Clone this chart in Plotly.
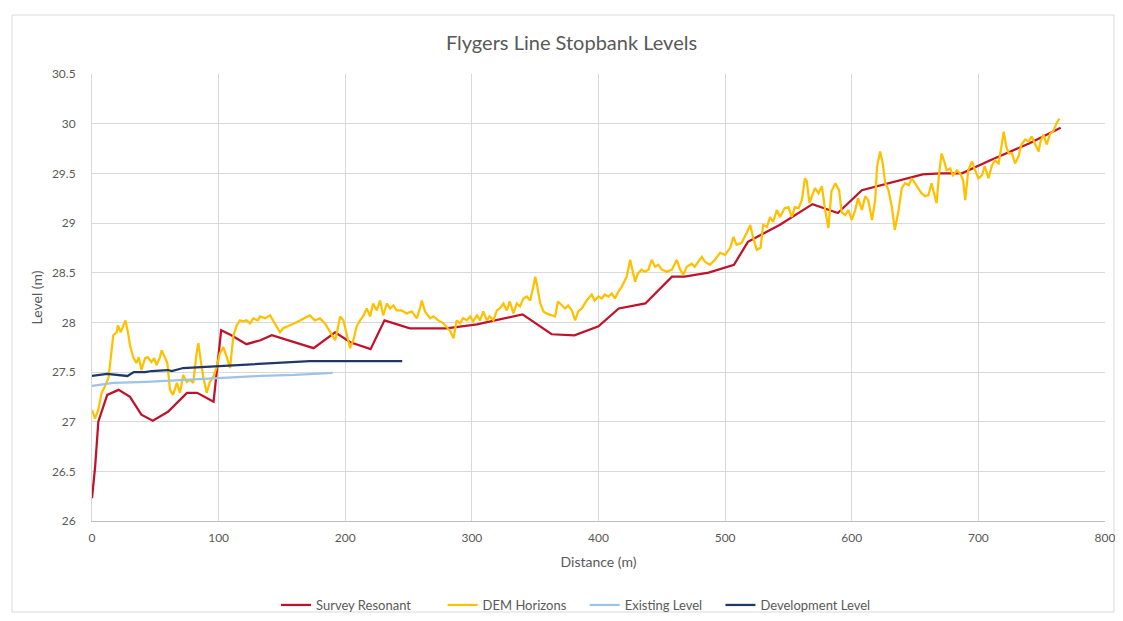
import plotly.graph_objects as go

# Survey Resonant
survey_x = [0, 2.5, 5, 12, 21, 30, 39, 48, 60, 75, 83, 96, 102, 110, 122, 133, 142, 155, 175, 192, 204,
            220, 231, 251, 280, 304, 340, 363, 381, 400, 416, 437, 458, 468, 487, 507, 518, 531, 543,
            569, 589, 608, 633, 656, 670, 687, 709, 740, 765]
survey_y = [26.23, 26.55, 27.0, 27.27, 27.32, 27.25, 27.07, 27.01, 27.1, 27.29, 27.29, 27.2, 27.92, 27.87,
            27.78, 27.82, 27.87, 27.82, 27.74, 27.9, 27.8, 27.73, 28.02, 27.94, 27.94, 27.98, 28.08,
            27.88, 27.87, 27.96, 28.14, 28.19, 28.46, 28.46, 28.5, 28.58, 28.81, 28.9, 28.98, 29.19,
            29.1, 29.33, 29.41, 29.49, 29.5, 29.5, 29.63, 29.8, 29.96]

# DEM Horizons
dem_x = [0, 2.4, 5, 7.6, 10, 13, 15.5, 16.8, 19.5, 20.5, 22.6, 24.5, 26.5, 28.5, 30, 32.5, 35, 37, 39, 42,
         44, 47, 49, 51, 53.7, 55, 57.7, 59.5, 61.6, 64, 67, 69.5, 72, 74.8, 77.4, 80, 82.7, 84, 85.8, 88,
         90.6, 93, 95.8, 98.5, 101, 103.7, 106.4, 109, 111.6, 114.3, 116.9, 119.5, 122, 124.8, 127.4, 131,
         132.7, 136.7, 140.6, 144.5, 148.5, 151, 153.8, 156.4, 160, 164.3, 168, 172, 176, 180, 184, 188,
         192, 193.8, 196, 198.5, 201, 203.8, 206.4, 209, 211.7, 214, 217, 219.6, 222, 224.9, 227.5, 230,
         232.8, 235.4, 238, 240.6, 244.5, 248.5, 252.5, 256.5, 259, 260.4, 263, 267, 269.6, 273.5, 277.5,
         280, 283, 285.5, 288, 290.7, 293, 296, 298.6, 301, 304, 306.5, 309, 311.8, 314, 317, 319.7, 322,
         325, 327.6, 330, 332.8, 335.5, 338, 340.7, 343.4, 346, 348.6, 350, 351.7, 354, 356.5, 359, 363,
         365.7, 368, 371, 373.6, 376, 379, 381.5, 384, 386.8, 390.7, 394.7, 397, 400, 402.6, 405, 407.8,
         410.5, 413, 415.7, 418.4, 422.3, 425, 427.6, 429, 431, 434, 436.8, 439.4, 442, 444.7, 447.3, 450,
         454, 458, 461.8, 464.5, 467, 469.7, 473.6, 476, 481.6, 484, 488, 492, 496, 500, 504, 506.6, 509,
         513, 517, 519.8, 522, 525, 528, 530, 533, 535.5, 538, 540.8, 543.4, 547, 550, 552.7, 555, 558,
         560.6, 563, 564.5, 566.6, 568.5, 571, 573.7, 576.4, 579, 581.6, 584, 587, 590, 592, 594.8, 597.4,
         600, 602.7, 605, 608, 610.6, 613, 616, 618.5, 620, 622.4, 624.5, 626.4, 629, 631.7, 634, 637,
         639.5, 642, 645, 647.5, 650, 652.7, 655, 658, 660.6, 663, 664.5, 667, 669, 671, 673, 675, 677.7,
         680, 683, 685.6, 688, 689.6, 692, 695, 697.5, 700, 702.8, 705, 708, 710.7, 713, 716, 718.6, 720,
         722, 724, 726.5, 729, 731.7, 734, 737, 739.6, 742, 745, 747.6, 749, 751.4, 754, 756.7, 759, 762, 764]
dem_y = [27.12, 27.03, 27.12, 27.29, 27.35, 27.44, 27.72, 27.87, 27.9, 27.97, 27.9, 27.96, 28.02, 27.89,
         27.77, 27.65, 27.59, 27.65, 27.52, 27.64, 27.65, 27.6, 27.64, 27.57, 27.65, 27.72, 27.65, 27.59,
         27.32, 27.27, 27.39, 27.29, 27.47, 27.4, 27.42, 27.39, 27.7, 27.79, 27.62, 27.44, 27.29, 27.4,
         27.45, 27.55, 27.69, 27.75, 27.65, 27.54, 27.86, 27.97, 28.02, 28.01, 28.02, 27.99, 28.04, 28.02,
         28.06, 28.04, 28.07, 27.99, 27.9, 27.94, 27.96, 27.97, 27.99, 28.02, 28.04, 28.07, 28.02, 28.04,
         27.99, 27.9, 27.82, 27.92, 28.06, 28.02, 27.89, 27.74, 27.82, 27.96, 28.02, 28.06, 28.14, 28.06,
         28.19, 28.12, 28.22, 28.07, 28.19, 28.14, 28.17, 28.12, 28.12, 28.09, 28.11, 28.04, 28.14, 28.22,
         28.11, 28.04, 28.06, 28.02, 27.99, 27.95, 27.91, 27.84, 28.02, 27.99, 28.04, 28.02, 28.06, 28.01,
         28.07, 28.02, 28.11, 28.02, 28.06, 28.02, 28.12, 28.14, 28.19, 28.12, 28.21, 28.09, 28.19, 28.16,
         28.24, 28.26, 28.22, 28.36, 28.46, 28.36, 28.19, 28.11, 28.09, 28.07, 28.06, 28.21, 28.17, 28.14,
         28.17, 28.12, 28.02, 28.11, 28.14, 28.22, 28.28, 28.22, 28.26, 28.24, 28.28, 28.26, 28.29, 28.24,
         28.31, 28.36, 28.46, 28.63, 28.48, 28.41, 28.49, 28.53, 28.51, 28.53, 28.63, 28.56, 28.58, 28.53,
         28.51, 28.53, 28.63, 28.53, 28.48, 28.56, 28.59, 28.56, 28.66, 28.61, 28.58, 28.63, 28.7, 28.68,
         28.75, 28.86, 28.78, 28.8, 28.9, 28.98, 28.86, 28.73, 28.75, 28.98, 28.96, 29.06, 29.01, 29.13,
         29.06, 29.15, 29.16, 29.06, 29.16, 29.15, 29.23, 29.45, 29.42, 29.2, 29.27, 29.35, 29.3, 29.37,
         29.13, 28.95, 29.32, 29.4, 29.33, 29.11, 29.08, 29.13, 29.03, 29.13, 29.25, 29.13, 29.27, 29.23,
         29.03, 29.23, 29.57, 29.72, 29.6, 29.4, 29.33, 29.16, 28.93, 29.13, 29.35, 29.4, 29.38, 29.45,
         29.4, 29.35, 29.3, 29.27, 29.28, 29.4, 29.33, 29.2, 29.5, 29.7, 29.62, 29.53, 29.55, 29.48, 29.53,
         29.5, 29.43, 29.23, 29.53, 29.62, 29.53, 29.45, 29.48, 29.57, 29.45, 29.58, 29.63, 29.6, 29.8,
         29.92, 29.77, 29.7, 29.7, 29.6, 29.67, 29.79, 29.84, 29.82, 29.87, 29.79, 29.72, 29.82, 29.89,
         29.79, 29.9, 29.92, 30.01, 30.05]

# Existing Level
existing_x = [0, 17, 43, 70, 101, 133, 160, 190]
existing_y = [27.36, 27.39, 27.40, 27.42, 27.44, 27.46, 27.47, 27.49]

# Development Level
dev_x = [0, 12, 28, 33, 42, 47, 60, 63, 72, 101, 133, 172, 245]
dev_y = [27.46, 27.48, 27.46, 27.50, 27.50, 27.51, 27.52, 27.51, 27.54, 27.56, 27.58, 27.61, 27.61]

x_ticks = [0, 100, 200, 300, 400, 500, 600, 700, 800]
y_ticks = [26, 26.5, 27, 27.5, 28, 28.5, 29, 29.5, 30, 30.5]
y_tick_text = ["26", "26.5", "27", "27.5", "28", "28.5", "29", "29.5", "30", "30.5"]

FONT = "Lato, 'Open Sans', sans-serif"
GREY = "#595959"
NB = "\u00a0"

fig = go.Figure()
fig.add_trace(go.Scatter(x=survey_x, y=survey_y, mode="lines", name="Survey Resonant" + NB * 8,
                         line=dict(color="#C0122B", width=2.25)))
fig.add_trace(go.Scatter(x=dem_x, y=dem_y, mode="lines", name="DEM Horizons" + NB * 4,
                         line=dict(color="#FFC000", width=2.25)))
fig.add_trace(go.Scatter(x=existing_x, y=existing_y, mode="lines", name="Existing Level" + NB * 4,
                         line=dict(color="#9DC3E6", width=2.25)))
fig.add_trace(go.Scatter(x=dev_x, y=dev_y, mode="lines", name="Development Level",
                         line=dict(color="#1F3864", width=2.25)))

W, H = 1107, 605
L, T, PW, PH = 84, 66, 1013, 447
fig.update_layout(
    width=W, height=H,
    margin=dict(l=L, r=W - L - PW, t=T, b=H - T - PH, autoexpand=False),
    paper_bgcolor="white", plot_bgcolor="white",
    font=dict(family=FONT, color=GREY, size=12),
    title=dict(text="Flygers Line Stopbank Levels", xref="container", x=563.5 / W, xanchor="center",
               yref="container", y=1 - 35 / H, yanchor="middle",
               font=dict(family=FONT, size=20, color=GREY)),
    xaxis=dict(range=[0, 800], tickvals=x_ticks, ticktext=[str(v) for v in x_ticks],
               showgrid=True, gridcolor="#D9D9D9", gridwidth=1,
               showline=True, linecolor="#BFBFBF", linewidth=1, zeroline=False,
               ticks="", ticklabelstandoff=6, ticklabeloverflow="allow",
               tickfont=dict(size=12, color=GREY),
               title=dict(text="Distance (m)", font=dict(size=14, color=GREY), standoff=12)),
    yaxis=dict(range=[26, 30.5], tickvals=y_ticks, ticktext=y_tick_text,
               showgrid=True, gridcolor="#D9D9D9", gridwidth=1,
               showline=True, linecolor="#D9D9D9", linewidth=1, zeroline=False,
               ticks="", ticklabelstandoff=13, tickfont=dict(size=12, color=GREY),
               title=dict(text="Level (m)", font=dict(size=14, color=GREY), standoff=5)),
    legend=dict(orientation="h", x=(576 - 92) / PW, xanchor="center", y=(521 - 605) / PH, yanchor="middle",
                font=dict(size=13, color=GREY), bgcolor="rgba(0,0,0,0)",
                itemwidth=30, tracegroupgap=0),
    showlegend=True,
)

# outer chart border
fig.add_shape(type="rect", xref="paper", yref="paper",
              x0=(4 - L) / PW, x1=(W - 1 - L) / PW,
              y0=(T + PH - (H - 1)) / PH, y1=(T + PH - 7) / PH,
              line=dict(color="#D9D9D9", width=1), fillcolor="rgba(0,0,0,0)", layer="below")

fig.write_html("out.html")
